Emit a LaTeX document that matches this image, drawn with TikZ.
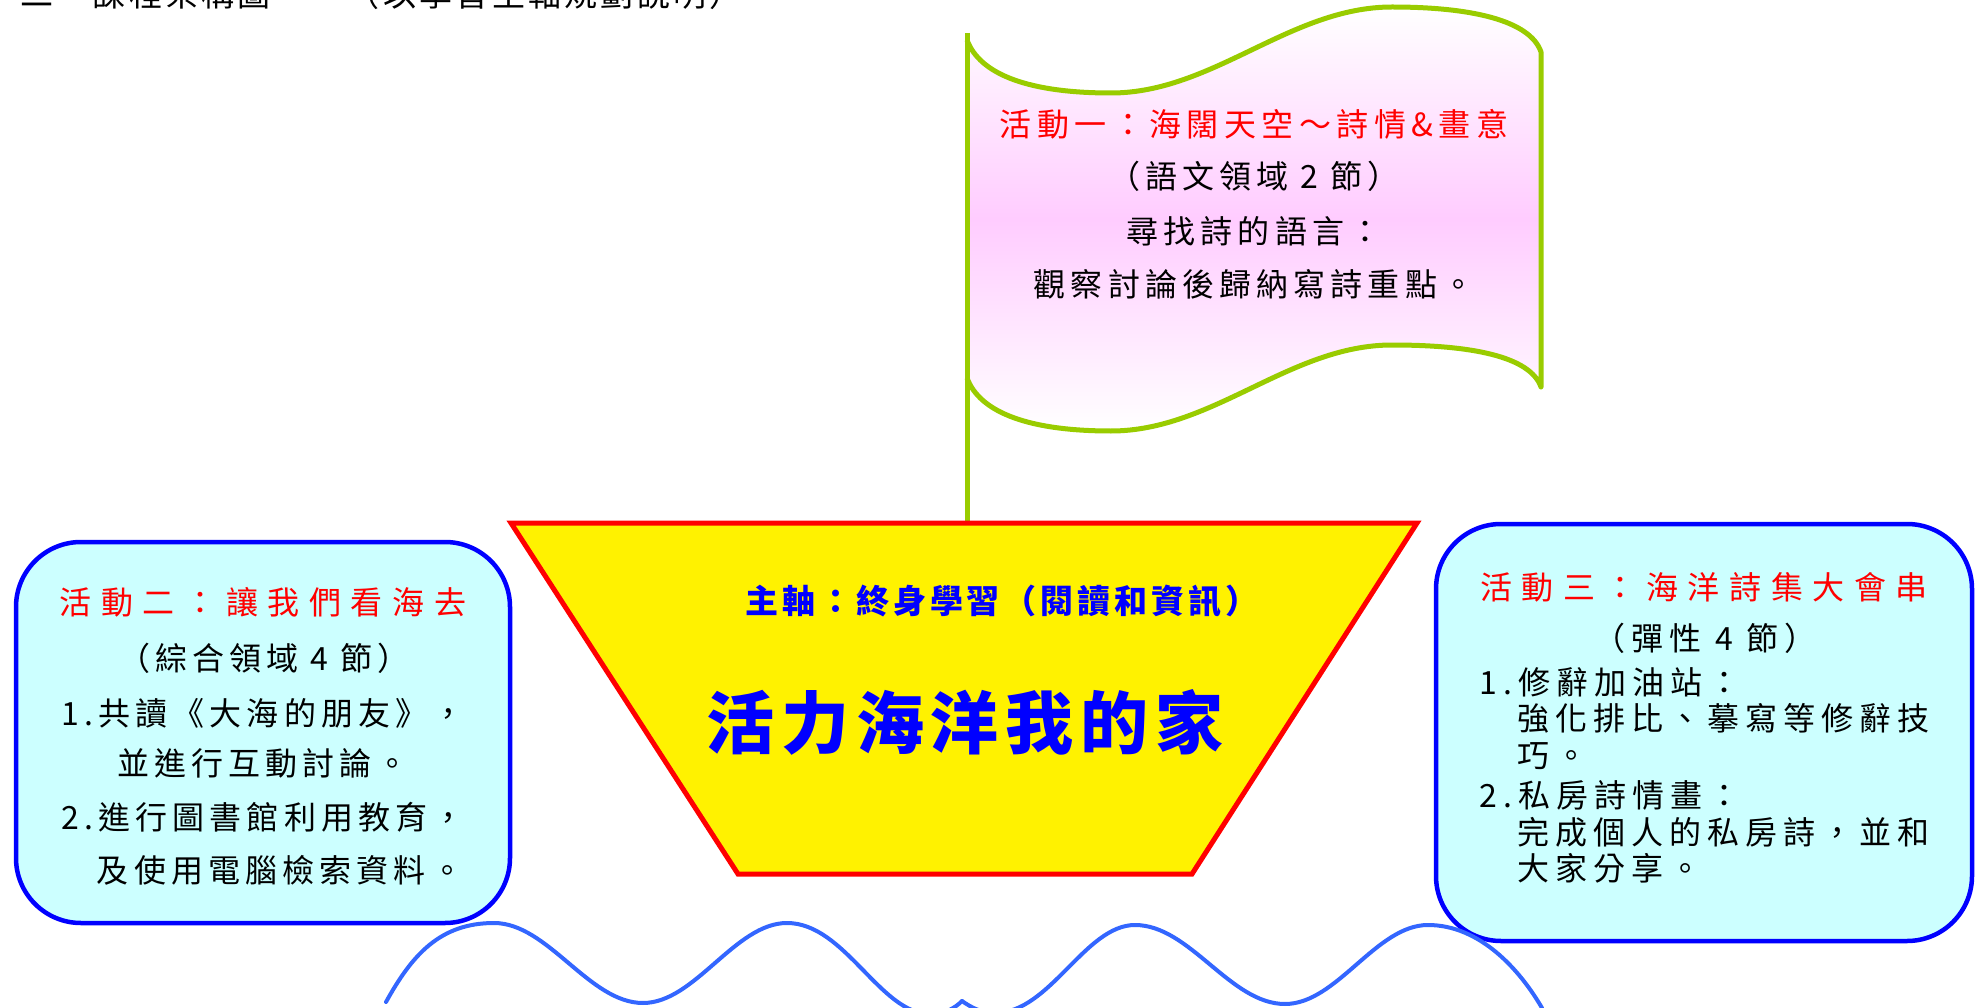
\documentclass[tikz,border=0pt]{standalone}
\usepackage{fontspec}
\newfontfamily\cjk{Noto Sans CJK TC}
\definecolor{flaggreen}{HTML}{99CC00}
\definecolor{flagpink}{HTML}{FFCCFF}
\definecolor{boxcyan}{HTML}{CCFFFF}
\definecolor{wavec}{HTML}{3366FF}
\newcommand\myHead{\cjk\fontsize{33}{38}\selectfont\addfontfeatures{LetterSpace=10}}
\newcommand\myFlagTitle{\cjk\fontsize{32}{38}\selectfont\addfontfeatures{LetterSpace=17}}
\newcommand\myBody{\cjk\fontsize{32}{38}\selectfont\addfontfeatures{LetterSpace=16}}
\newcommand\myBodyR{\cjk\fontsize{32}{38}\selectfont\addfontfeatures{LetterSpace=19}}
\newcommand\myTitle{\cjk\fontsize{32}{38}\selectfont\addfontfeatures{LetterSpace=30}}
\newcommand\mySub{\cjk\bfseries\fontsize{33}{38}\selectfont\addfontfeatures{LetterSpace=12}}
\newcommand\myMain{\cjk\bfseries\fontsize{68}{76}\selectfont\addfontfeatures{LetterSpace=10}}
\begin{document}
\begin{tikzpicture}[x=1pt,y=-1pt,
  flagline/.style={draw=flaggreen, line width=5pt, line join=round},
  trapst/.style={draw=red, fill=yellow, line width=5pt, line join=miter},
  boxst/.style={draw=blue, line width=4.5pt, fill=boxcyan, rounded corners=65pt, inner sep=0pt},
  wavest/.style={draw=wavec, line width=4pt, line cap=round},
  redt/.style={text=red, inner sep=0pt, anchor=base},
  blkt/.style={text=black, inner sep=0pt, anchor=base},
  blkl/.style={text=black, inner sep=0pt, anchor=base west},
  bluet/.style={text=blue, inner sep=0pt, anchor=base}]
\useasboundingbox (0,0) rectangle (1984,1008);

% clipped heading at the top
\node[blkl, font=\myHead] (head) at (20,7) {二、課程架構圖　　（以學習主軸規劃說明）};

% flag
\path[shade, top color=white, bottom color=white, middle color=flagpink]
  (967,40) .. controls (980,75) and (1030,93) .. (1111,93)
  .. controls (1213,93) and (1290,7) .. (1392,7)
  .. controls (1470,7) and (1530,20) .. (1541,52)
  -- (1541,387)
  .. controls (1530,356) and (1470,345) .. (1392,345)
  .. controls (1290,345) and (1213,431) .. (1111,431)
  .. controls (1030,431) and (980,413) .. (967,378) -- cycle;
\draw[flagline]
  (967,40) .. controls (980,75) and (1030,93) .. (1111,93)
  .. controls (1213,93) and (1290,7) .. (1392,7)
  .. controls (1470,7) and (1530,20) .. (1541,52)
  -- (1541,387)
  .. controls (1530,356) and (1470,345) .. (1392,345)
  .. controls (1290,345) and (1213,431) .. (1111,431)
  .. controls (1030,431) and (980,413) .. (967,378);
\coordinate (poletop) at (967,33);
\coordinate (polefoot) at (967,523);
\draw[flagline] (poletop) -- (polefoot);

\node[redt, font=\myFlagTitle] (f1) at (1254,137) {活動一：海闊天空～詩情\&畫意};
\node[blkt, font=\myBody] (f2) at (1254,189) {（語文領域 2 節）};
\node[blkt, font=\myBody] (f3) at (1254,244) {尋找詩的語言：};
\node[blkt, font=\myBody] (f4) at (1254,297) {觀察討論後歸納寫詩重點。};

% central trapezoid
\draw[trapst] (511,523) -- (1417,523) -- (1192,874) -- (738,874) -- cycle;
\node[bluet, font=\mySub] (c1) at (1002,613) {主軸：終身學習（閱讀和資訊）};
\node[bluet, font=\myMain] (c2) at (965,748) {活力海洋我的家};

% left box
\node[boxst, minimum width=494pt, minimum height=381pt] (lbox) at (263,732.5) {};
\node[redt, font=\myTitle] (l1) at (263,614) {活動二：讓我們看海去};
\node[blkt, font=\myBody] (l2) at (264,670) {（綜合領域 4 節）};
\node[blkt, font=\myBody] (l3) at (263,725) {1.共讀《大海的朋友》，};
\node[blkt, font=\myBody] (l4) at (263,775) {並進行互動討論。};
\node[blkt, font=\myBody] (l5) at (263,829) {2.進行圖書館利用教育，};
\node[blkt, font=\myBody] (l6) at (280,882) {及使用電腦檢索資料。};

% right box
\node[boxst, minimum width=536pt, minimum height=417pt] (rbox) at (1704,732.5) {};
\node[redt, font=\myTitle] (r1) at (1704,599) {活動三：海洋詩集大會串};
\node[blkt, font=\myBodyR] (r2) at (1705,650) {（彈性 4 節）};
\node[blkl, font=\myBodyR] (r3) at (1479,694) {1.修辭加油站：};
\node[blkl, font=\myBodyR] (r4) at (1517,730) {強化排比、摹寫等修辭技};
\node[blkl, font=\myBodyR] (r5) at (1517,767) {巧。};
\node[blkl, font=\myBodyR] (r6) at (1479,807) {2.私房詩情畫：};
\node[blkl, font=\myBodyR] (r7) at (1517,844) {完成個人的私房詩，並和};
\node[blkl, font=\myBodyR] (r8) at (1517,880) {大家分享。};

% waves
\draw[wavest] (386,1002) .. controls (412,955) and (440,923) .. (494,923)
  .. controls (548,923) and (589,1003) .. (643,1003)
  .. controls (695,1003) and (735,923) .. (787,923)
  .. controls (845,923) and (880,1014) .. (930,1014)
  .. controls (945,1014) and (955,1008) .. (962,1001);
\draw[wavest] (962,1001) .. controls (972,1008) and (982,1013) .. (995,1013)
  .. controls (1050,1013) and (1085,925) .. (1135,925)
  .. controls (1190,925) and (1230,1004) .. (1285,1004)
  .. controls (1337,1004) and (1376,925) .. (1428,925)
  .. controls (1480,925) and (1520,970) .. (1542,1008);
\end{tikzpicture}
\end{document}
